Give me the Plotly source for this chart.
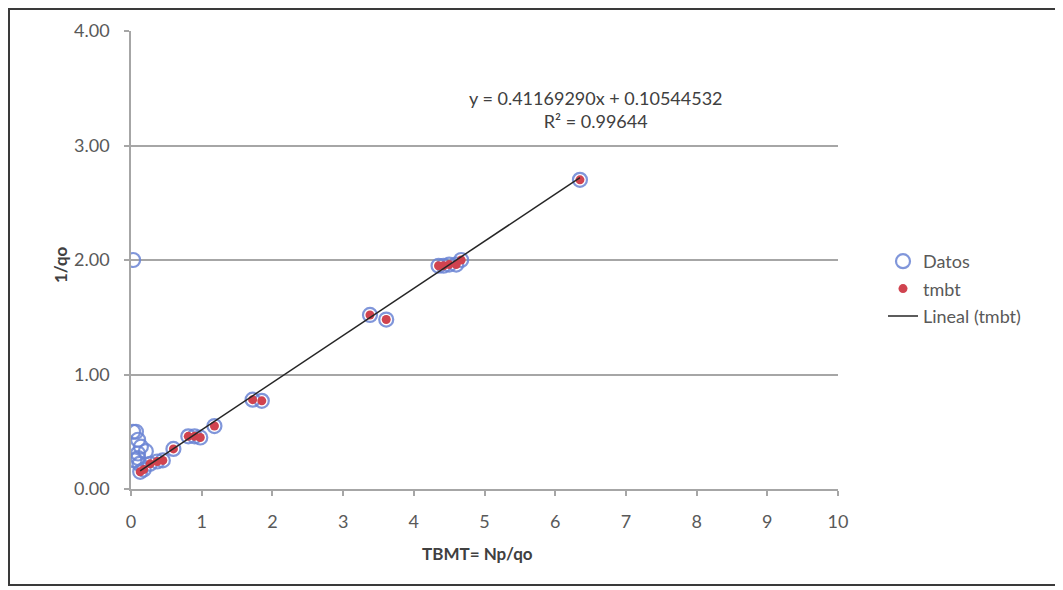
import plotly.graph_objects as go

# ---- data ----
datos_extra_x = [0.03, 0.03, 0.07, 0.10, 0.14, 0.21, 0.10, 0.10, 0.05, 0.12]
datos_extra_y = [2.00, 0.50, 0.50, 0.43, 0.37, 0.33, 0.31, 0.27, 0.25, 0.22]

tmbt_x = [0.13, 0.18, 0.27, 0.37, 0.45, 0.60, 0.81, 0.90, 0.98, 1.18,
          1.72, 1.85, 3.38, 3.61, 4.35, 4.42, 4.50, 4.60, 4.67, 6.35]
tmbt_y = [0.15, 0.17, 0.22, 0.24, 0.25, 0.35, 0.46, 0.46, 0.45, 0.55,
          0.78, 0.77, 1.52, 1.48, 1.95, 1.95, 1.96, 1.96, 2.00, 2.70]

slope = 0.41169290
intercept = 0.10544532
r2 = 0.99644

x_ticks = list(range(0, 11))
y_ticks = [0, 1, 2, 3, 4]

datos_x = datos_extra_x + tmbt_x
datos_y = datos_extra_y + tmbt_y

trend_x = [min(tmbt_x), max(tmbt_x)]
trend_y = [slope * v + intercept for v in trend_x]

FONT = "Lato, 'Open Sans', sans-serif"
GRAY = "#595959"

W, H = 1055, 582
L, T, PW, PH = 123, 23, 707, 458
R = W - L - PW
B = H - T - PH


def px(xp):
    return (xp - L) / PW


def py(yp):
    return (T + PH - yp) / PH


fig = go.Figure()
fig.add_trace(go.Scatter(
    x=datos_x, y=datos_y, mode="markers", name="Datos", legendgroup="a",
    marker=dict(symbol="circle-open", size=14, color="#6a84d4",
                line=dict(width=2.2, color="#6a84d4"), opacity=0.85),
))
fig.add_trace(go.Scatter(
    x=tmbt_x, y=tmbt_y, mode="markers", name="tmbt", legendgroup="b",
    marker=dict(symbol="circle", size=9, color="#d0434f"),
))
fig.add_trace(go.Scatter(
    x=trend_x, y=trend_y, mode="lines", name="Lineal (tmbt)", legendgroup="c",
    line=dict(color="#262626", width=1.5),
))

fig.add_annotation(
    xref="paper", yref="paper", x=px(588), y=py(101.5),
    text=f"y = {slope:.8f}x + {intercept:.8f}<br>R² = {r2:.5f}",
    showarrow=False, align="center", xanchor="center", yanchor="middle",
    font=dict(family=FONT, size=18, color="#404040"),
)

# x axis title
fig.add_annotation(
    xref="paper", yref="paper", x=px(469), y=py(545),
    text="<b>TBMT= Np/qo</b>", showarrow=False, xanchor="center", yanchor="middle",
    font=dict(family=FONT, size=17, color="#404040"),
)

# y axis title
fig.add_annotation(
    xref="paper", yref="paper", x=px(52), y=py(257),
    text="<b>1/qo</b>", showarrow=False, xanchor="center", yanchor="middle",
    textangle=-90, font=dict(family=FONT, size=17, color="#404040"),
)

# outer frame of the chart
fig.add_shape(
    type="rect", xref="paper", yref="paper",
    x0=px(1), x1=px(1049), y0=py(577), y1=py(1),
    line=dict(color="#3a3a3a", width=2), fillcolor="rgba(0,0,0,0)", layer="below",
)

fig.update_layout(
    width=W, height=H,
    margin=dict(l=L, r=R, t=T, b=B),
    paper_bgcolor="white", plot_bgcolor="white",
    font=dict(family=FONT, color=GRAY, size=18),
    showlegend=True,
    legend=dict(
        x=px(875), y=py(235), xanchor="left", yanchor="top",
        font=dict(size=18, color=GRAY), bgcolor="rgba(0,0,0,0)",
        traceorder="grouped", tracegroupgap=1,
    ),
    xaxis=dict(
        range=[0, 10], tickvals=x_ticks, ticktext=[str(v) for v in x_ticks],
        showgrid=False, zeroline=False, showline=True, linecolor="#a6a6a6", linewidth=1.5,
        ticks="outside", ticklen=5, tickcolor="#a6a6a6", tickwidth=1.5,
        tickfont=dict(size=18, color=GRAY), ticklabelstandoff=11,
    ),
    yaxis=dict(
        range=[0, 4], tickvals=y_ticks, ticktext=[f"{v:.2f}" for v in y_ticks],
        showgrid=True, gridcolor="#a6a6a6", gridwidth=1.5,
        zeroline=False, showline=True, linecolor="#a6a6a6", linewidth=1.5,
        ticks="outside", ticklen=5, tickcolor="#a6a6a6", tickwidth=1.5,
        tickfont=dict(size=18, color=GRAY), ticklabelstandoff=11,
    ),
)

fig.write_html("out.html")
